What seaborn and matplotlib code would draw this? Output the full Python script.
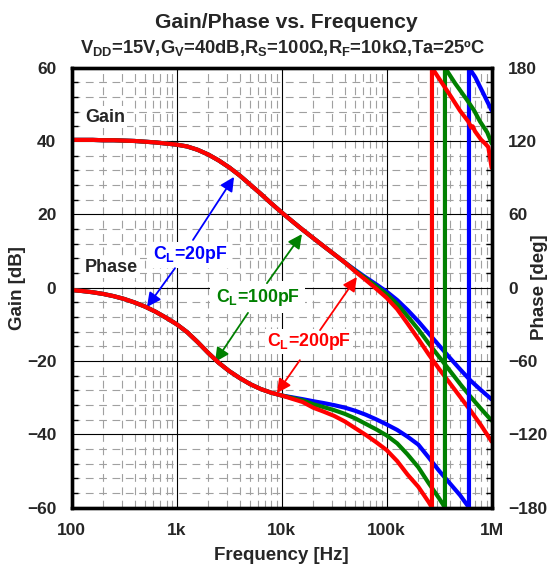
import numpy as np
import pandas as pd
import matplotlib
matplotlib.use('Agg')
import matplotlib.pyplot as plt
import matplotlib.ticker as tck
import seaborn as sns

# ---- data ----
cl_labels = ['20pF', '100pF', '200pF']
colors = {'20pF': '#0000FF', '100pF': '#008000', '200pF': '#FF0000'}

# gain: identical for all C_L below ~40kHz
freq_gain_low = [100, 126, 158, 200, 251, 316, 398, 501, 631, 794, 1000, 1260, 1580,
                 2000, 2510, 3160, 3980, 5010, 6310, 7940, 10000, 12600, 15800, 20000,
                 25100, 31600, 39800]
gain_low = [40.3, 40.3, 40.3, 40.2, 40.2, 40.1, 40.0, 39.8, 39.6, 39.3, 39.0, 38.5, 37.6,
            36.3, 34.7, 32.8, 30.6, 28.1, 25.6, 23.0, 20.5, 18.1, 15.8, 13.5,
            11.3, 9.1, 6.9]
freq_gain_high = [50100, 63100, 79400, 100000, 126000, 158000, 200000, 251000, 316000,
                  398000, 501000, 631000, 794000, 1000000]
gain_20pF = [4.8, 2.8, 0.9, -1.1, -3.4, -6.1, -9.2, -12.5, -15.8,
             -19.1, -22.3, -25.4, -28.0, -30.5]
gain_100pF = [4.6, 2.5, 0.4, -1.8, -4.5, -7.8, -11.4, -15.2, -18.9,
              -22.6, -26.3, -29.8, -33.1, -36.3]
gain_200pF = [4.4, 2.1, -0.3, -2.8, -5.9, -9.8, -14.0, -18.2, -22.2,
              -26.0, -29.8, -33.6, -37.6, -42.0]

# phase: identical for all C_L below ~10kHz
freq_ph_low = [100, 126, 158, 200, 251, 316, 398, 501, 631, 794, 1000, 1260, 1580,
               2000, 2510, 3160, 3980, 5010, 6310, 7940, 10000]
phase_low = [-2.0, -2.8, -3.8, -5.2, -7.0, -9.3, -12.2, -15.6, -19.8, -24.7, -30.0,
             -36.5, -44.5, -53.5, -61.5, -68.3, -74.0, -79.0, -83.0, -86.0, -88.3]

freq_ph_20pF = [12600, 15800, 20000, 25100, 31600, 39800, 50100, 63100, 79400, 100000,
                126000, 158000, 200000, 251000, 316000, 398000, 501000, 608000,
                608000, 700000, 832000, 1000000]
phase_20pF = [-89.8, -91.3, -93.0, -94.5, -96.2, -98.2, -100.8, -104.0, -107.8, -112.0,
              -116.5, -122.0, -128.5, -139.0, -150.0, -160.0, -170.0, -180.0,
              180.0, 172.0, 159.0, 145.0]
freq_ph_100pF = [12600, 15800, 20000, 25100, 31600, 39800, 50100, 63100, 79400, 100000,
                 126000, 158000, 200000, 251000, 316000, 359000,
                 359000, 450000, 578000, 680000, 774000, 908000, 1000000]
phase_100pF = [-90.3, -92.3, -95.5, -97.8, -100.3, -103.3, -107.0, -111.5, -116.0, -121.0,
               -127.5, -136.5, -147.0, -160.0, -172.5, -180.0,
               180.0, 167.0, 154.0, 145.0, 136.0, 127.0, 118.0]
freq_ph_200pF = [12600, 15800, 20000, 25100, 31600, 39800, 50100, 63100, 79400, 100000,
                 126000, 158000, 200000, 251000, 270000,
                 270000, 316000, 398000, 501000, 598000, 640000, 660000, 693000,
                 794000, 864000, 929000, 1000000]
phase_200pF = [-91.0, -93.6, -98.3, -101.5, -105.0, -109.5, -115.0, -120.5, -126.5, -133.0,
               -142.0, -153.0, -163.0, -175.5, -180.0,
               180.0, 171.0, 158.0, 144.6, 136.0, 131.0, 132.0, 128.0,
               121.0, 118.0, 115.0, 98.0]

# ---- build tables ----
gain_df = pd.concat([
    pd.DataFrame({'freq': freq_gain_low + freq_gain_high, 'gain': gain_low + g, 'CL': c})
    for c, g in zip(cl_labels, [gain_20pF, gain_100pF, gain_200pF])
], ignore_index=True)

phase_df = pd.concat([
    pd.DataFrame({'freq': freq_ph_low + f, 'phase': phase_low + p, 'CL': c})
    for c, f, p in zip(cl_labels,
                       [freq_ph_20pF, freq_ph_100pF, freq_ph_200pF],
                       [phase_20pF, phase_100pF, phase_200pF])
], ignore_index=True)

# ---- style ----
sns.set_theme(style='white')
plt.rcParams['font.family'] = ['Liberation Sans', 'DejaVu Sans']
plt.rcParams['font.weight'] = 'bold'
plt.rcParams['axes.labelweight'] = 'bold'
plt.rcParams['mathtext.default'] = 'regular'

fig = plt.figure(figsize=(5.57, 5.72), dpi=100)
ax = fig.add_axes([0.1287, 0.1127, 0.754, 0.769])
ax2 = ax.twinx()

line_kw = dict(lw=3, solid_joinstyle='round', legend=False, sort=False, estimator=None)
sns.lineplot(data=gain_df, x='freq', y='gain', hue='CL', hue_order=cl_labels,
             palette=colors, ax=ax, **line_kw)
sns.lineplot(data=phase_df, x='freq', y='phase', hue='CL', hue_order=cl_labels,
             palette=colors, ax=ax2, **line_kw)

ax.set_xscale('log')
ax.set_xlim(100, 1e6)
ax.set_ylim(-60, 60)
ax2.set_ylim(-180, 180)

ax.set_xticks([100, 1000, 10000, 100000, 1000000])
ax.set_xticklabels(['100', '1k', '10k', '100k', '1M'])
ax.xaxis.set_minor_locator(tck.LogLocator(base=10, subs=np.arange(2, 10), numticks=20))
ax.xaxis.set_minor_formatter(tck.NullFormatter())
ax.set_yticks(np.arange(-60, 61, 20))
ax.yaxis.set_minor_locator(tck.MultipleLocator(4))
ax2.set_yticks(np.arange(-180, 181, 60))
ax2.yaxis.set_minor_locator(tck.MultipleLocator(12))

ax.grid(which='major', color='black', lw=0.8)
ax.grid(which='minor', color='#a0a0a0', lw=0.8, ls=(0, (7, 5)))
ax.set_axisbelow(True)

ax.tick_params(axis='both', which='major', direction='in', length=0, labelsize=12.5, pad=11)
ax.tick_params(axis='both', which='minor', direction='in', length=4, width=1, color='black')
ax2.tick_params(axis='y', which='major', direction='in', length=0, labelsize=12.5, pad=12)
ax2.tick_params(axis='y', which='minor', direction='in', length=4, width=1, color='black')

for a in (ax, ax2):
    for s in a.spines.values():
        s.set_linewidth(2.4)
        s.set_color('black')

ax.set_xlabel('Frequency [Hz]', fontsize=13.5)
ax.xaxis.set_label_coords(0.5, -0.108)
ax.xaxis.label.set_va('center')
ax.set_ylabel('Gain [dB]', fontsize=13.5)
ax.yaxis.set_label_coords(-0.128, 0.5)
ax.yaxis.label.set_va('center')
ax2.set_ylabel('Phase [deg]', fontsize=13.5, rotation=90)
ax2.yaxis.set_label_coords(1.115, 0.5)
ax2.yaxis.label.set_va('center')

# ---- labels and arrows ----
box = dict(facecolor='white', edgecolor='none', pad=1.5)
ax.text(134, 46.5, 'Gain', fontsize=13, ha='left', va='center', bbox=box)
ax.text(134, 5.6, 'Phase', fontsize=13, ha='left', va='center', bbox=box)
ax.text(1340, 8.9, '$C_L$=20pF', fontsize=12.8, color=colors['20pF'],
        ha='center', va='center', bbox=box, zorder=5)
ax.text(5940, -2.6, '$C_L$=100pF', fontsize=12.8, color=colors['100pF'],
        ha='center', va='center', bbox=dict(facecolor='white', edgecolor='none', pad=4), zorder=5)
ax.text(18200, -14.8, '$C_L$=200pF', fontsize=12.8, color=colors['200pF'],
        ha='center', va='center', bbox=box, zorder=5)

arrows = [
    ('20pF', (1430, 13.0), (3520, 30.2)),
    ('20pF', (964, 5.3), (521, -5.3)),
    ('100pF', (7240, 1.2), (15600, 14.6)),
    ('100pF', (4780, -6.9), (2320, -20.3)),
    ('200pF', (23200, -11.6), (52000, 2.9)),
    ('200pF', (14900, -19.8), (9000, -28.8)),
]
for c, start, tip in arrows:
    ax.annotate('', xy=tip, xytext=start,
                arrowprops=dict(arrowstyle='-|>,head_length=0.6,head_width=0.3',
                                color=colors[c], lw=1.3, mutation_scale=14,
                                shrinkA=0, shrinkB=0), zorder=6)

fig.text(0.5135, 0.96, 'Gain/Phase vs. Frequency', fontsize=15.2, ha='center', va='center')
fig.text(0.5065, 0.916, '$V_{DD}$=15V,$G_V$=40dB,$R_S$=100Ω,$R_F$=10kΩ,Ta=25ºC',
         fontsize=13.2, ha='center', va='center')

fig.savefig('out.png', dpi=100)
